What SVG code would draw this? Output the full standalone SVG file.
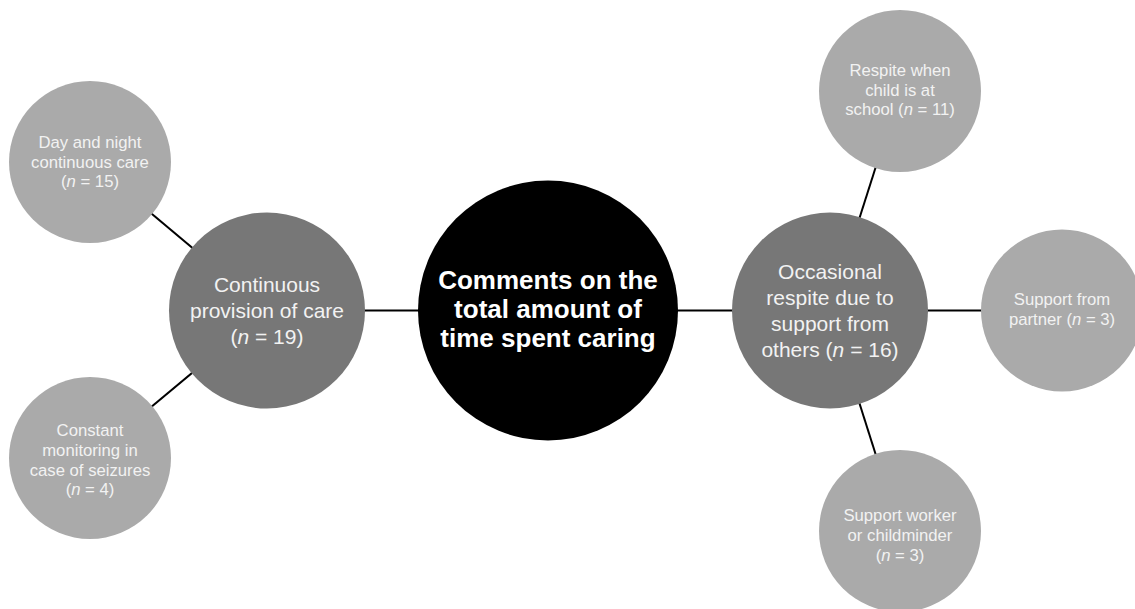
<svg xmlns="http://www.w3.org/2000/svg" width="1135" height="609" viewBox="0 0 1135 609">
<style>
.small{fill:#aaaaaa}
.mid{fill:#777777}
.core{fill:#000000}
.ts{font-family:"Liberation Sans",Arial,sans-serif;font-size:16.7px;fill:#f2f2f2;text-anchor:middle}
.tm{font-family:"Liberation Sans",Arial,sans-serif;font-size:21px;fill:#f2f2f2;text-anchor:middle}
.tc{font-family:"Liberation Sans",Arial,sans-serif;font-size:26px;font-weight:bold;fill:#ffffff;text-anchor:middle}
.it{font-style:italic}
.conn line{stroke:#000000;stroke-width:2}
</style>
<rect width="1135" height="609" fill="#ffffff"/>
<g id="connectors" class="conn">
<line x1="267" y1="310.5" x2="548" y2="310.5"/>
<line x1="548" y1="310.5" x2="830" y2="310.5"/>
<line x1="830" y1="310.5" x2="1062" y2="310.5"/>
<line x1="267" y1="310.5" x2="90" y2="162"/>
<line x1="267" y1="310.5" x2="90" y2="458"/>
<line x1="830" y1="310.5" x2="900" y2="91"/>
<line x1="830" y1="310.5" x2="900" y2="531"/>
</g>
<g id="center">
<circle class="core" cx="548" cy="310.5" r="130"/>
<text class="tc" x="548" y="289">Comments on the</text>
<text class="tc" x="548" y="318">total amount of</text>
<text class="tc" x="548" y="347">time spent caring</text>
</g>
<g id="continuous">
<circle class="mid" cx="267" cy="310.5" r="98"/>
<text class="tm" x="267" y="292">Continuous</text>
<text class="tm" x="267" y="318">provision of care</text>
<text class="tm" x="267" y="344">(<tspan class="it">n</tspan> = 19)</text>
</g>
<g id="occasional">
<circle class="mid" cx="830" cy="310.5" r="98"/>
<text class="tm" x="830" y="279">Occasional</text>
<text class="tm" x="830" y="305">respite due to</text>
<text class="tm" x="830" y="331">support from</text>
<text class="tm" x="830" y="357">others (<tspan class="it">n</tspan> = 16)</text>
</g>
<g id="day-night">
<circle class="small" cx="90" cy="162" r="81"/>
<text class="ts" x="90" y="148">Day and night</text>
<text class="ts" x="90" y="168">continuous care</text>
<text class="ts" x="90" y="187">(<tspan class="it">n</tspan> = 15)</text>
</g>
<g id="monitoring">
<circle class="small" cx="90" cy="458" r="81"/>
<text class="ts" x="90" y="436">Constant</text>
<text class="ts" x="90" y="456">monitoring in</text>
<text class="ts" x="90" y="475.5">case of seizures</text>
<text class="ts" x="90" y="495">(<tspan class="it">n</tspan> = 4)</text>
</g>
<g id="school">
<circle class="small" cx="900" cy="91" r="81"/>
<text class="ts" x="900" y="76">Respite when</text>
<text class="ts" x="900" y="95.5">child is at</text>
<text class="ts" x="900" y="115">school (<tspan class="it">n</tspan> = 11)</text>
</g>
<g id="partner">
<circle class="small" cx="1062" cy="310.5" r="81"/>
<text class="ts" x="1062" y="305">Support from</text>
<text class="ts" x="1062" y="325">partner (<tspan class="it">n</tspan> = 3)</text>
</g>
<g id="worker">
<circle class="small" cx="900" cy="531" r="81"/>
<text class="ts" x="900" y="521">Support worker</text>
<text class="ts" x="900" y="541">or childminder</text>
<text class="ts" x="900" y="560.5">(<tspan class="it">n</tspan> = 3)</text>
</g>
</svg>
